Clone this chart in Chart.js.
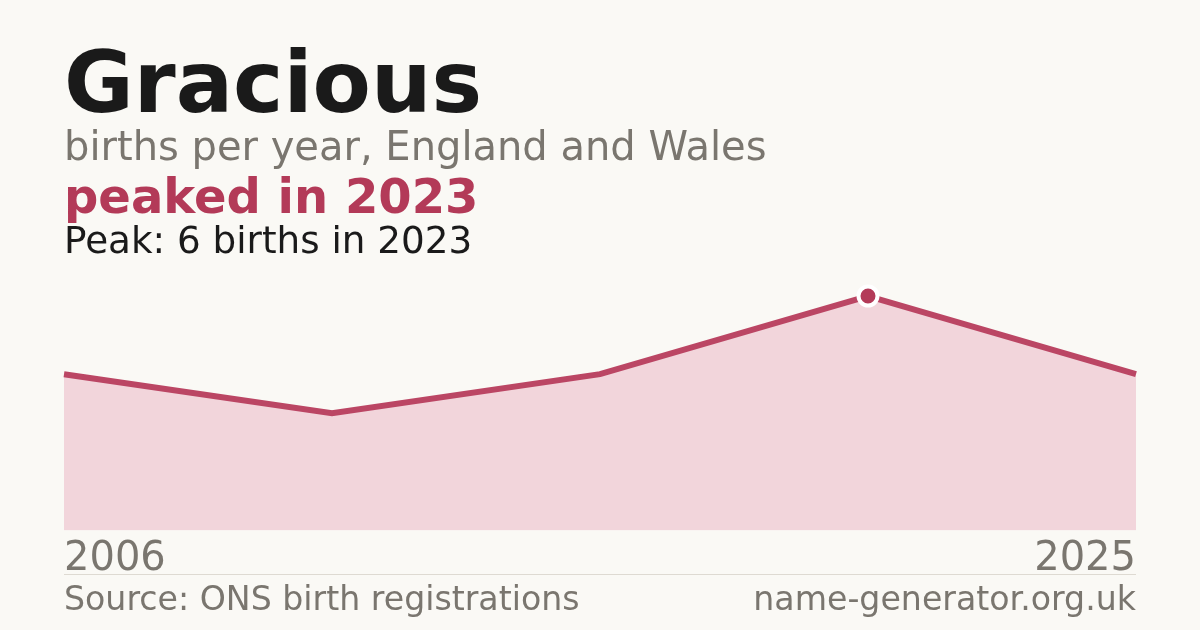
<!DOCTYPE html>
<html>
<head>
<meta charset="utf-8">
<script src="https://cdn.jsdelivr.net/npm/chart.js@4.4.1/dist/chart.umd.min.js"></script>
<style>
  html, body { margin: 0; padding: 0; }
  body {
    width: 1200px; height: 630px; overflow: hidden;
    background: #faf9f5; position: relative;
    font-family: "DejaVu Sans", sans-serif;
  }
  .txt { position: absolute; line-height: 1; white-space: nowrap; }
  #title { left: 64px; top: 40px; font-size: 85px; font-weight: bold; color: #1a1a1a; }
  #subtitle { left: 64px; top: 126px; font-size: 40px; color: #7a766f; }
  #headline { left: 64px; top: 172px; font-size: 48px; font-weight: bold; color: #b33a58; }
  #peakline { left: 64px; top: 222px; font-size: 37.3px; color: #1a1a1a; }
  #yearFirst { left: 64px; top: 536px; font-size: 40px; color: #7a766f; }
  #yearLast { right: 64px; top: 536px; font-size: 40px; color: #7a766f; }
  #rule { position: absolute; left: 64px; width: 1072px; top: 574px; height: 1px; background: #dedad2; }
  #source { left: 64px; top: 582px; font-size: 33.2px; color: #7a766f; }
  #site { right: 64px; top: 582px; font-size: 33.2px; color: #7a766f; }
  #wrap { position: absolute; left: 0; top: 0; width: 1200px; height: 630px; }
</style>
</head>
<body>
<div id="wrap"><canvas id="chart" width="1200" height="630"></canvas></div>
<div class="txt" id="title">Gracious</div>
<div class="txt" id="subtitle">births per year, England and Wales</div>
<div class="txt" id="headline">peaked in 2023</div>
<div class="txt" id="peakline">Peak: 6 births in 2023</div>
<div class="txt" id="yearFirst"></div>
<div class="txt" id="yearLast"></div>
<div id="rule"></div>
<div class="txt" id="source">Source: ONS birth registrations</div>
<div class="txt" id="site">name-generator.org.uk</div>
<script>
// --- Data ---
const years = ["2006", "2011", "2017", "2023", "2025"];
const births = [4, 3, 4, 6, 4];
const peakIndex = 3;

// --- Colours ---
const LINE_COLOR = "#bb4664";
const FILL_COLOR = "#f2d5db";
const PEAK_COLOR = "#b33a58";

document.getElementById("yearFirst").textContent = years[0];
document.getElementById("yearLast").textContent = years[years.length - 1];

// Only the peak gets a marker
const pointRadii = births.map((_, i) => (i === peakIndex ? 9.5 : 0));

const ctx = document.getElementById("chart").getContext("2d");
new Chart(ctx, {
  type: "line",
  data: {
    labels: years,
    datasets: [
      {
        data: births,
        borderColor: LINE_COLOR,
        borderWidth: 6,
        backgroundColor: FILL_COLOR,
        fill: "origin",
        tension: 0,
        pointRadius: pointRadii,
        pointHoverRadius: pointRadii,
        pointBackgroundColor: PEAK_COLOR,
        pointBorderColor: "#ffffff",
        pointBorderWidth: 4,
        clip: false,
      },
    ],
  },
  options: {
    responsive: false,
    animation: false,
    devicePixelRatio: 1,
    layout: { padding: { left: 64, right: 64, top: 296, bottom: 99.5 } },
    plugins: { legend: { display: false }, tooltip: { enabled: false } },
    scales: {
      x: { display: false, offset: false },
      y: { display: false, min: 0, max: 6 },
    },
  },
});
</script>
</body>
</html>
